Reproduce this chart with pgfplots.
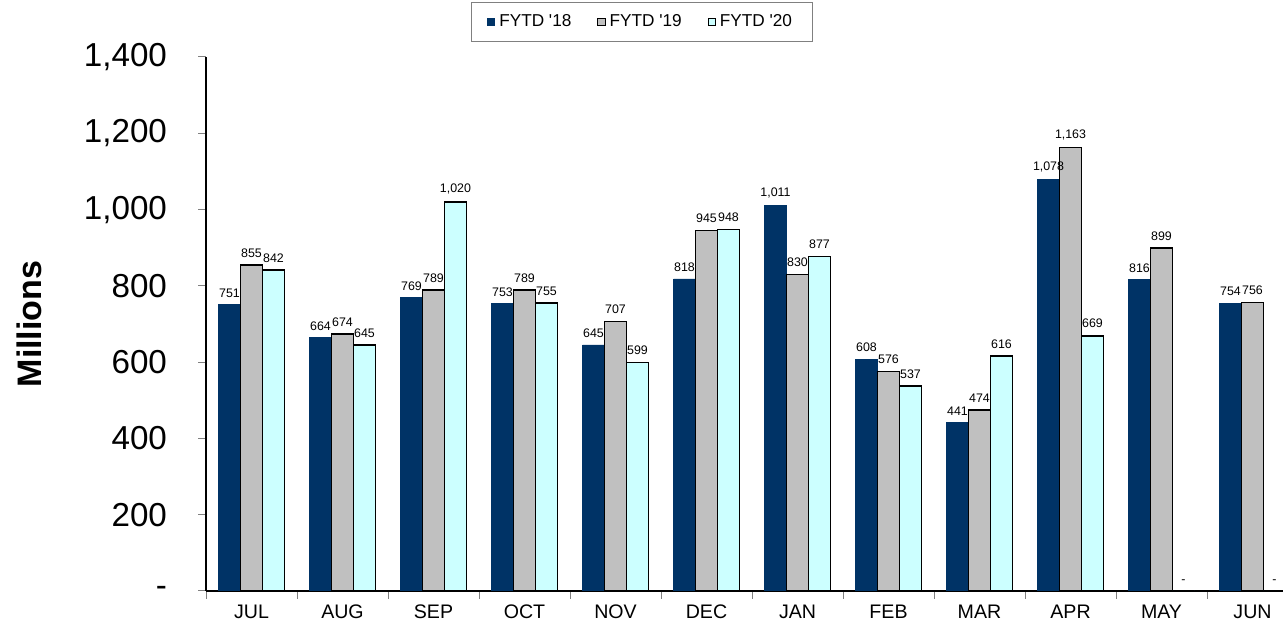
\documentclass[border=0pt]{standalone}
\usepackage{fontspec}
\setmainfont{Liberation Sans}[Ligatures=TeXOff]
\usepackage{pgfplots}
\usepackage{pgfplotstable}
\pgfplotsset{compat=1.18}
\definecolor{navy}{HTML}{003366}
\definecolor{gbar}{HTML}{C0C0C0}
\definecolor{cbar}{HTML}{CCFFFF}
\pgfplotsset{sqlegend/.style={legend image code/.code={\draw[##1,line width=0.5pt] (0pt,-1.8pt) rectangle (3.6pt,1.8pt);}}}

\pgfplotstableread{
x y lab
0 751 751
1 664 664
2 769 769
3 753 753
4 645 645
5 818 818
6 1011 1,011
7 608 608
8 441 441
9 1078 1,078
10 816 816
11 754 754
}\dataA
\pgfplotstableread{
x y lab
0 855 855
1 674 674
2 789 789
3 789 789
4 707 707
5 945 945
6 830 830
7 576 576
8 474 474
9 1163 1,163
10 899 899
11 756 756
}\dataB
\pgfplotstableread{
x y lab
0 842 842
1 645 645
2 1020 1,020
3 755 755
4 599 599
5 948 948
6 877 877
7 537 537
8 616 616
9 669 669
10 0 -
11 0 -
}\dataC

\begin{document}
\begin{tikzpicture}
\begin{axis}[
  at={(103pt,16.5pt)}, anchor=south west,
  scale only axis, width=538.5pt, height=267pt,
  xmin=-0.5, xmax=11.335, ymin=0, ymax=1400,
  axis x line=bottom, axis y line=left,
  x axis line style={-, line width=0.6pt},
  y axis line style={-, line width=0.6pt},
  tick align=outside,
  tick style={gray, line width=0.5pt},
  major tick length=4pt,
  ybar=0pt, bar width=11pt,
  xtick={-0.5,0.5,...,11.5},
  xticklabels={},
  extra x ticks={0,...,11},
  extra x tick labels={JUL,AUG,SEP,OCT,NOV,DEC,JAN,FEB,MAR,APR,MAY,JUN},
  extra x tick style={major tick length=0pt, tick label style={font=\fontsize{9.8}{11}\selectfont, yshift=-3.5pt}},
  ytick={0,200,...,1400},
  yticklabels={-,200,400,600,800,{1,000},{1,200},{1,400}},
  yticklabel style={font=\fontsize{16.6}{18}\selectfont, xshift=-12pt},
  ylabel={Millions},
  ylabel style={font=\fontsize{17}{19}\selectfont\bfseries, at={(axis description cs:-0.1643,0.5)}, anchor=center},
  nodes near coords,
  point meta=explicit symbolic,
  every node near coord/.append style={font=\fontsize{6.2}{7}\selectfont, inner sep=1pt, yshift=2.5pt, text=black},
  legend style={at={(axis description cs:0.4044,1.103)}, anchor=north, legend columns=3, draw=gray, line width=0.5pt,
    font=\fontsize{8.6}{10}\selectfont, inner ysep=4pt, inner xsep=8pt,
    /tikz/every even column/.append style={column sep=11pt}},
  legend cell align=left,
]
\addplot[fill=navy, draw=navy, sqlegend] table[x=x,y=y,meta=lab] {\dataA};
\addplot[fill=gbar, draw=black, line width=0.7pt, sqlegend] table[x=x,y=y,meta=lab] {\dataB};
\addplot[fill=cbar, draw=black, line width=0.7pt, sqlegend] table[x=x,y=y,meta=lab] {\dataC};
\legend{FYTD '18,FYTD '19,FYTD '20}
\end{axis}
\pgfresetboundingbox
\useasboundingbox (0,0) rectangle (641.5pt,312pt);
\end{tikzpicture}
\end{document}
